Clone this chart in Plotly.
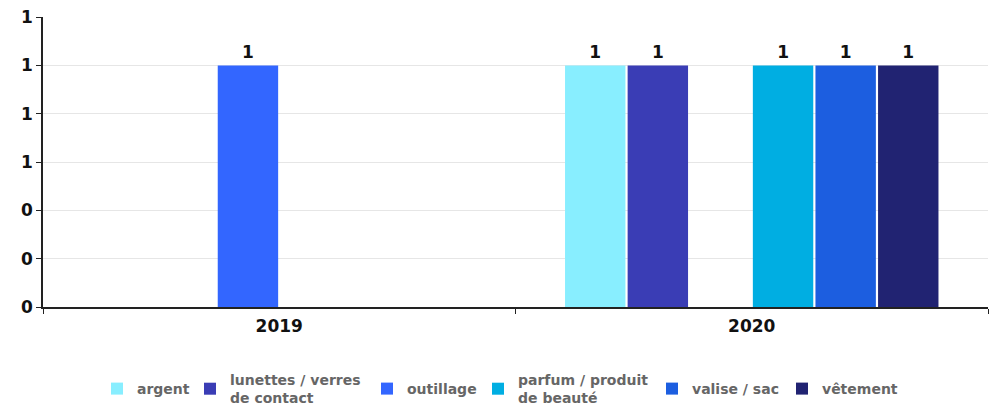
import plotly.graph_objects as go

categories = ["2019", "2020"]
series_names = ["argent", "lunettes / verres<br>de contact", "outillage",
                "parfum / produit<br>de beauté", "valise / sac", "vêtement"]
series_values = [
    [None, 1],
    [None, 1],
    [1, None],
    [None, 1],
    [None, 1],
    [None, 1],
]
series_colors = ["#88EEFF", "#3A3DB5", "#3366FF", "#00AEE2", "#1C5EE0", "#212372"]
y_ticks = [0, 0.2, 0.4, 0.6, 0.8, 1.0, 1.2]

# page offset of the figure (default body margin) and plot geometry
W, H = 990, 400
ML, MR, MT, MB = 35, 10, 9, 101
PW, PH = W - ML - MR, H - MT - MB
legend_marker_px = [117, 210, 387, 498, 672, 802]   # page x of legend swatches
legend_center_py = 389                              # page y of legend row

fig = go.Figure()
for i, (name, vals, col) in enumerate(zip(series_names, series_values, series_colors)):
    lg = "legend" if i == 0 else f"legend{i + 1}"
    fig.add_trace(go.Bar(
        x=categories, y=vals, name=name, legend=lg,
        marker=dict(color=col, line=dict(width=0)),
        texttemplate="%{y:.0f}",
        textposition="outside", cliponaxis=False,
        textfont=dict(family="DejaVu Sans", size=17, color="#111111", weight="bold"),
    ))

legend_style = dict(font=dict(family="DejaVu Sans", size=14, color="#666666", weight="bold"),
                    itemwidth=30, orientation="h", xanchor="left", yanchor="middle",
                    bgcolor="rgba(0,0,0,0)")
legends = {}
for i, mx in enumerate(legend_marker_px):
    key = "legend" if i == 0 else f"legend{i + 1}"
    lx = (mx - 8 - 20 - ML) / PW
    ly = (MT + PH - (legend_center_py - 8)) / PH
    legends[key] = dict(x=lx, y=ly, **legend_style)

fig.update_layout(
    barmode="group", bargap=0.205, bargroupgap=0.035,
    width=W, height=H,
    margin=dict(l=ML, r=MR, t=MT, b=MB, autoexpand=False),
    plot_bgcolor="white", paper_bgcolor="white",
    font=dict(family="DejaVu Sans", size=17, color="#111111"),
    showlegend=True,
    xaxis=dict(type="category", showline=True, linecolor="#222222", linewidth=1.5,
               ticks="outside", tickson="boundaries", ticklen=5, tickcolor="#222222",
               automargin=False, ticklabelstandoff=3,
               tickfont=dict(family="DejaVu Sans", size=17, color="#111111", weight="bold"),
               showgrid=False),
    yaxis=dict(range=[0, 1.2004], tickvals=y_ticks, tickformat=".0f",
               showline=True, linecolor="#222222", linewidth=1.5,
               ticks="outside", ticklen=5, tickcolor="#222222", automargin=False,
               ticklabeloverflow="allow",
               gridcolor="#e6e6e6", gridwidth=1, zeroline=False,
               tickfont=dict(family="DejaVu Sans", size=17, color="#111111", weight="bold")),
    **legends,
)

fig.write_html("out.html")
